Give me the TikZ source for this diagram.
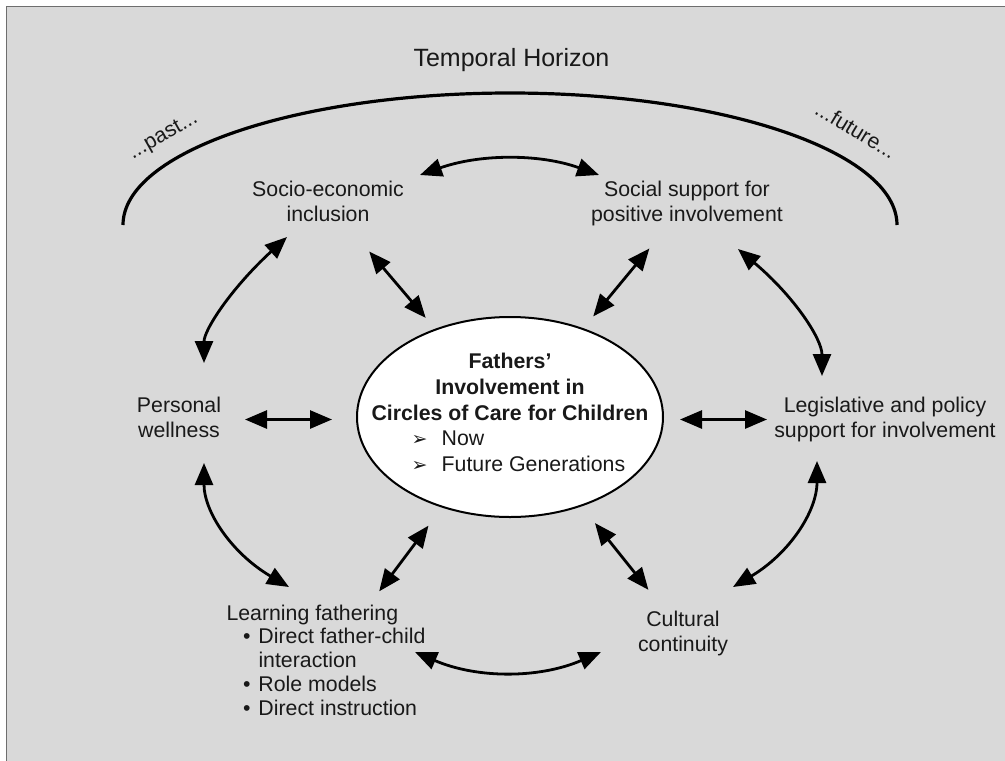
\documentclass[tikz,border=0pt]{standalone}
\usepackage{fontspec}
\setmainfont{Liberation Sans}
\newfontfamily\dingfont{DejaVu Sans}
\usetikzlibrary{arrows.meta,shapes.geometric}
\definecolor{bg}{RGB}{217,217,217}
\definecolor{bordercol}{RGB}{110,110,110}
\definecolor{txt}{RGB}{25,25,25}
\newcommand\sx{\rule[-5pt]{0pt}{21pt}}
\newcommand\arrbul[1]{\makebox[196.6pt][l]{\makebox[30pt][l]{\raisebox{0.5pt}{\dingfont\fontsize{19}{19}\selectfont ➢}}#1}}
\newcommand\lbul[1]{\makebox[32pt][r]{\textbullet\hspace{8pt}}#1}
\begin{document}
\begin{tikzpicture}[x=1pt,y=-1pt,
  lbl/.style={inner sep=0pt, outer sep=0pt, align=center, text=txt,
              font=\fontsize{21.3}{25}\selectfont},
  dbl/.style={line width=2.8pt, >={Triangle[length=22pt,width=18pt]}, <->},
  horizon/.style={line width=3.2pt},
  hub/.style={draw, line width=2pt, fill=white, ellipse, minimum width=306pt,
              minimum height=200pt, inner sep=0pt, outer sep=0pt}]
\useasboundingbox (0,0) rectangle (1005,761);
\fill[white] (0,0) rectangle (1005,761);
\fill[bg] (6,6) rectangle (1005,761);
\draw[bordercol, line width=1.2pt] (6.5,761) -- (6.5,6.5) -- (1005,6.5);

% temporal horizon
\node[lbl, font=\fontsize{25}{30}\selectfont, anchor=base] (th) at (511.5,66.5) {Temporal Horizon};
\draw[horizon] (123,225) .. controls (123,152.1) and (296.3,93) .. (510,93)
               .. controls (723.7,93) and (897,152.1) .. (897,225);
\node[lbl, rotate=29.5] (past) at (163.5,136.5) {...past...};
\node[lbl, rotate=-31] (future) at (856,130) {...future...};

% hub
\node[hub] (fathers) at (510,417) {};
\node[lbl, font=\bfseries\fontsize{21.3}{25.85}\selectfont, anchor=north] (fatherstext) at (510,352.3)
  {\sx Fathers’\\\sx Involvement in\\\sx Circles of Care for Children\\
   \sx\arrbul{\mdseries Now}\\\sx\arrbul{\mdseries Future Generations}};

% satellites
\node[lbl, anchor=north] (socio) at (328,180) {\sx Socio-economic\\\sx inclusion};
\node[lbl, anchor=north] (social) at (687,180) {\sx Social support for\\\sx positive involvement};
\node[lbl, anchor=north] (personal) at (179,396.5) {\sx Personal\\\sx wellness};
\node[lbl, anchor=north] (legis) at (885,396.5) {\sx Legislative and policy\\\sx support for involvement};
\node[lbl, anchor=north] (cultural) at (683,610) {\sx Cultural\\\sx continuity};
\node[lbl, align=left, font=\fontsize{21.3}{23.9}\selectfont, anchor=north west] (learning) at (226.5,604)
  {\sx Learning fathering\\\sx\lbul{Direct father-child}\\\sx\hspace*{32pt}interaction\\
   \sx\lbul{Role models}\\\sx\lbul{Direct instruction}};

% straight connectors (node to node)
\draw[dbl, shorten <=63.6pt, shorten >=130.1pt] (socio.center) -- (fathers.center);
\draw[dbl, shorten <=59pt, shorten >=130.6pt] (social.center) -- (fathers.center);
\draw[dbl, shorten <=66pt, shorten >=178pt] (personal.center) -- (personal.center -| fathers.center);
\draw[dbl, shorten <=170pt, shorten >=118pt] (legis.center -| fathers.center) -- (legis.center);
\draw[dbl, shorten <=135.9pt, shorten >=55.3pt] (fathers.center) -- (cultural.center);
\draw[dbl, shorten <=135.8pt, shorten >=88.7pt] (fathers.center) -- (learning.center);

% curved connectors
\coordinate (socio-e) at (420,175);
\coordinate (social-w) at (599,175);
\coordinate (socio-sw) at (287,237);
\coordinate (personal-n) at (204,363);
\coordinate (social-se) at (738,249);
\coordinate (legis-n) at (822,376);
\coordinate (legis-s) at (817,461);
\coordinate (cultural-ne) at (733,587);
\coordinate (personal-s) at (204,463);
\coordinate (learning-ne) at (289,587);
\coordinate (learning-e) at (415,652);
\coordinate (cultural-w) at (601,652);
\draw[dbl] (socio-e) .. controls (480.3,153.7) and (540,153.7) .. (social-w);
\draw[dbl] (socio-sw) .. controls (231.7,287.7) and (204,329.7) .. (personal-n);
\draw[dbl] (social-se) .. controls (794,296.3) and (822,338.7) .. (legis-n);
\draw[dbl] (legis-s) .. controls (817,511.7) and (789,553.7) .. (cultural-ne);
\draw[dbl] (personal-s) .. controls (204,512.3) and (232.3,553.7) .. (learning-ne);
\draw[dbl] (learning-e) .. controls (477,678.7) and (539,678.7) .. (cultural-w);
\end{tikzpicture}
\end{document}
